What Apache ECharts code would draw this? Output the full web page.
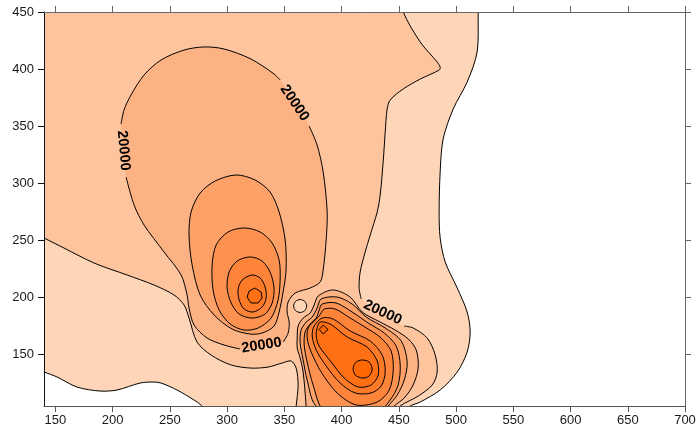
<!DOCTYPE html>
<html><head><meta charset="utf-8">
<script src="https://cdn.jsdelivr.net/npm/echarts/dist/echarts.min.js"></script>
<style>html,body{margin:0;padding:0;background:#fff}#main{width:699px;height:435px}</style>
</head><body><div id="main"></div>
<script>
// ---------- axis ticks ----------
const xTicks = [150,200,250,300,350,400,450,500,550,600,650,700];
const yTicks = [150,200,250,300,350,400,450];
const contourLabelText = '20000';

// ---------- contour lines (data coordinates) ----------
const whiteRight = [[519.3,460],[519.3,450],[518.4,415.0],[509.7,388.7],[497.5,365.1],[488.7,338.8],[486.1,309.9],[485.2,274.9],[486.1,252.1],[490.5,231.1],[501.0,208.3],[509.7,187.3],[512.3,169.8],[509.7,152.3],[501.0,134.7],[486.1,119.0],[468.7,108.5],[459.9,105.0],[452,98]];
const whiteBottomLeft = [[130,139],[140,134.8],[151.4,130.4],[168.8,121.6],[188.9,118.1],[203.8,119.0],[223.9,125.1],[235.3,126.0],[242.3,125.1],[256.2,119.0],[271.1,110.2],[277.2,105.8],[282,100]];
const frameC1 = [[130,470],[519.3,470]];

const level12Left = [[130,257],[140,252.1],[157.5,243.3],[183.7,230.2],[212.6,219.7],[236.2,210.9],[253.6,202.2],[262.4,193.4],[266.7,182.0],[273.7,161.0],[286.0,149.6],[303.5,140.9],[320.9,138.2],[335.8,139.1],[348.0,142.6],[355.9,144.4],[360.3,138.2],[362.0,123.4],[360.3,105.0],[359.4,97]];
const level12RightA = [[453.8,460],[453.8,450],[468.7,423.7],[483.5,406.2],[486.1,401.8],[485.3,399.2],[468.7,391.3],[453.8,382.6],[442.4,372.9],[439.8,365.1],[438.1,344.9],[436.3,318.6],[433.7,289.7],[431.1,274.9],[425.0,254.7],[420.6,239.8],[416.2,222.3],[415.3,208.3],[417.1,198.7]];
const level12RightB = [[454.7,175.0],[462.5,173.3],[474.8,164.5],[481.8,149.6],[483.5,134.7],[479.2,123.4],[466.9,113.7],[451.2,105.0],[445,97]];
const frameC2 = [[130,470],[453.8,470]];

const dipCircle = [[363.8,198.2],[367.8,196.6],[369.5,192.5],[367.8,188.5],[363.8,186.9],[359.8,188.5],[358.1,192.5],[359.8,196.6]];

const c3LeftSeg1 = [[348.9,161.0],[353.3,168.9],[354.2,178.5],[352.4,187.3],[353.3,196.1],[359.4,203.9],[372.5,208.3],[381.3,213.6],[383.9,224.1],[386.5,250.3],[387.4,274.9],[383.9,309.9],[378.6,333.5],[371.6,350.2]];
const c3LeftSeg2 = [[346.3,390.5],[341.0,395.7],[320.9,408.8],[297.3,417.6],[279.9,419.4],[262.4,416.7],[242.3,408.0],[227.4,394.8],[216.0,377.3],[209.9,364.2],[207.3,351.9]];
const c3LeftSeg3 = [[211.7,305.5],[218.7,281.0],[227.4,263.5],[244.9,239.8],[259.8,219.7],[265.0,202.2],[266.7,190.8],[271.1,175.9],[282.5,164.5],[297.3,158.4],[311.3,154.9]];

const c4Left = [[307.8,307.3],[324.4,302.9],[337.5,292.4],[345.4,274.9],[350.7,250.3],[351.5,224.1],[348.9,204.8],[345.4,187.3],[341.0,175.0],[330.6,168.9],[320.1,168.0],[304.3,172.4],[288.6,184.7],[276.4,202.2],[269.4,228.5],[266.7,254.7],[268.5,274.9],[276.4,291.5],[289.5,302.0]];
const c5Left = [[314.8,260.9],[328.8,257.4],[339.3,247.7],[345.4,232.8],[346.3,215.3],[344.5,197.8],[338.4,182.0],[327.1,173.3],[314.8,171.5],[302.6,176.8],[293.0,189.0],[287.7,206.6],[286.9,228.5],[290.4,246.0],[300.8,257.4]];
const c6Left = [[320.1,235.5],[330.6,231.9],[337.5,222.3],[341.0,208.3],[339.3,195.2],[333.2,185.5],[321.8,182.0],[310.5,185.5],[303.5,195.2],[300.0,208.3],[301.7,222.3],[308.7,231.9]];
const c7Left = [[321.8,219.7],[328.8,217.1],[333.2,209.2],[334.1,199.6],[330.6,191.7],[322.7,187.3],[314.8,189.9],[310.5,197.8],[309.6,207.4],[313.1,215.3]];
const c8Left = [[324.4,208.3],[329.7,204.8],[330.6,199.6],[327.1,195.2],[320.9,195.2],[317.4,200.4],[319.2,205.7]];

const c3Right = [[369.0,97.1],[369.0,105.0],[366.4,134.8],[363.8,147.0],[361.2,155.8],[361.2,164.5],[362.0,175.0],[366.4,182.0],[372.5,186.4],[376.0,193.4],[379.5,201.3],[392.6,206.6],[407.5,200.4],[418.0,187.3],[433.7,178.5],[446.8,171.5],[458.2,163.7],[465.2,154.0],[466.9,138.3],[462.5,123.4],[454.7,112.0],[445.9,105.0],[438.9,97.1]];
const c4Right = [[382.1,198.7],[396.1,200.4],[409.2,194.3],[421.5,182.9],[438.1,173.3],[452.1,161.9],[457.3,143.5],[454.7,127.7],[448.6,114.6],[440.7,105.0],[432.0,94.5],[398.7,92.7],[376.9,105.9],[369.9,127.7],[366.4,145.3],[363.8,160.1],[364.6,171.5],[369.0,178.5],[374.3,182.9],[378.6,190.8]];
const c5Right = [[383.0,194.3],[395.2,195.2],[409.2,187.3],[423.2,177.7],[437.2,168.9],[447.7,157.5],[451.2,140.9],[449.4,123.4],[442.4,110.2],[432.0,99.7],[407.5,94.5],[383.9,101.5],[375.1,123.4],[369.9,143.5],[367.3,158.4],[368.1,169.8],[372.5,176.8],[377.8,182.0],[380.4,189.0]];
const c6Right = [[384.8,189.9],[394.4,189.9],[407.5,182.0],[423.2,172.4],[434.6,164.5],[443.3,153.1],[445.1,136.5],[441.6,119.0],[431.1,108.5],[412.7,105.9],[396.1,116.4],[382.1,134.8],[373.4,152.3],[369.9,164.5],[370.8,173.3],[375.1,178.5],[380.4,183.8]];
const c7Right = [[383.0,182.0],[392.6,181.2],[407.5,170.7],[425.0,161.9],[435.5,149.6],[438.1,134.8],[434.6,122.5],[425.8,116.4],[411.9,116.4],[398.7,125.1],[386.5,140.0],[377.8,154.0],[374.3,166.3],[376.0,175.0]];
const c8Right = [[381.3,178.5],[390.0,176.8],[404.9,165.4],[422.3,156.6],[431.1,144.4],[432.0,132.1],[425.8,123.4],[414.5,121.6],[402.2,129.5],[390.9,143.5],[380.4,157.5],[377.8,166.3],[378.6,173.3]];
const c9Diamond = [[383.9,175.9],[388.2,172.0],[383.9,168.0],[380.4,172.0]];
const c9Ellipse = [[418.0,145.3],[424.1,143.5],[426.7,137.4],[424.1,131.3],[418.0,129.5],[411.9,132.1],[410.1,138.3],[412.7,143.5]];

const labelAnchors = [[209.5,328.7],[359.0,370.3],[330.1,158.0],[435.9,186.9]];
const labelAngles = [-85,-56,9,-25];

// ---------- colours ----------
const COL = ['#FFFFFF','#FED5B7','#FDC49D','#FDB284','#FDA167','#FD914F','#FE843A','#FE7A27','#FF7014','#FF6703'];

const S = 0.3;
const fills = [
  {pts: frameC1.concat(whiteRight, whiteBottomLeft.slice().reverse()), c: 1},
  {pts: frameC2.concat(level12RightA, level12RightB, level12Left.slice().reverse()), c: 2},
  {pts: dipCircle, c: 1},
  {pts: c3LeftSeg1.concat(c3LeftSeg2, c3LeftSeg3), c: 3},
  {pts: c3Right, c: 3},
  {pts: c4Left, c: 4}, {pts: c4Right, c: 4},
  {pts: c5Left, c: 5}, {pts: c5Right, c: 5},
  {pts: c6Left, c: 6}, {pts: c6Right, c: 6},
  {pts: c7Left, c: 7}, {pts: c7Right, c: 7},
  {pts: c8Left, c: 8, sharp: true}, {pts: c8Right, c: 8},
  {pts: c9Diamond, c: 9, sharp: true}, {pts: c9Ellipse, c: 9}
];
const openLines = [whiteRight, whiteBottomLeft, level12Left, level12RightA, level12RightB, c3LeftSeg1, c3LeftSeg2, c3LeftSeg3];
const closedLines = [dipCircle, c3Right, c4Left, c4Right, c5Left, c5Right, c6Left, c6Right, c7Left, c7Right, c8Left, c8Right, c9Diamond, c9Ellipse];
const sharpSet = new Set([c8Left, c9Diamond]);

const chart = echarts.init(document.getElementById('main'), null, {renderer: 'canvas'});

function renderAll(params, api) {
  const cs = params.coordSys;
  const P = pts => pts.map(p => api.coord(p));
  const children = [];
  let z = 1;
  fills.forEach(f => children.push({type: 'polygon', z2: z++, shape: {points: P(f.pts), smooth: f.sharp ? 0 : S}, style: {fill: COL[f.c], stroke: null}}));
  openLines.forEach(l => children.push({type: 'polyline', z2: z++, shape: {points: P(l), smooth: S}, style: {fill: null, stroke: '#000', lineWidth: 1}}));
  closedLines.forEach(l => children.push({type: 'polygon', z2: z++, shape: {points: P(l), smooth: sharpSet.has(l) ? 0 : S}, style: {fill: null, stroke: '#000', lineWidth: 1}}));
  labelAnchors.forEach((a, i) => {
    const c = api.coord(a);
    children.push({type: 'text', z2: z++, x: c[0], y: c[1], rotation: labelAngles[i] * Math.PI / 180,
      style: {text: contourLabelText, fill: '#000', font: 'bold 14.5px "Liberation Sans", Arial, sans-serif',
        align: 'center', verticalAlign: 'middle', textAlign: 'center', textVerticalAlign: 'middle'}});
  });
  return {type: 'group', clipPath: {type: 'rect', shape: {x: cs.x, y: cs.y, width: cs.width, height: cs.height}}, children};
}

const labelFont = {fontSize: 13, color: '#1a1a1a', fontFamily: '"Liberation Sans", Arial, sans-serif'};
function xAx(pos, show, color) {
  return {type: 'value', min: 140, max: 700, position: pos, z: 10,
    axisLine: {show: true, onZero: false, lineStyle: {color: color, width: 1}},
    axisTick: {show: true, inside: false, length: 6, customValues: xTicks, lineStyle: {color: color}},
    axisLabel: Object.assign({show: show, margin: 8, customValues: xTicks}, labelFont),
    splitLine: {show: false}};
}
function yAx(pos, show, color) {
  return {type: 'value', min: 105, max: 450, position: pos, z: 10,
    axisLine: {show: true, onZero: false, lineStyle: {color: color, width: 1}},
    axisTick: {show: true, inside: false, length: 6, customValues: yTicks, lineStyle: {color: color}},
    axisLabel: Object.assign({show: show, margin: 10, customValues: yTicks}, labelFont),
    splitLine: {show: false}};
}

chart.setOption({
  animation: false,
  backgroundColor: '#ffffff',
  grid: {left: 44, right: 14, top: 12, bottom: 29, containLabel: false, outerBoundsMode: 'none'},
  xAxis: [xAx('bottom', true, '#555'), xAx('top', false, '#666')],
  yAxis: [yAx('left', true, '#111'), yAx('right', false, '#666')],
  series: [{type: 'custom', coordinateSystem: 'cartesian2d', xAxisIndex: 0, yAxisIndex: 0, silent: true,
    data: [[400, 300]], renderItem: renderAll}]
});
</script>
</body></html>
